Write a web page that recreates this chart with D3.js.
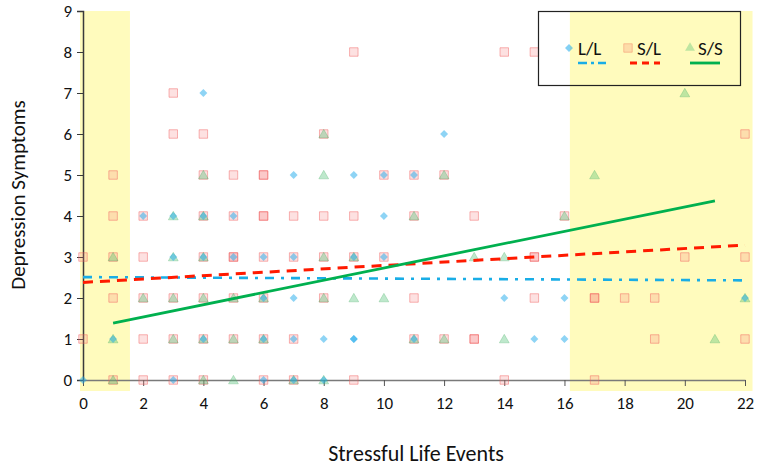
<!DOCTYPE html>
<html><head><meta charset="utf-8">
<script src="https://cdn.jsdelivr.net/npm/d3@7"></script>
<style>
html,body{margin:0;padding:0;background:#fff;}
svg{display:block;font-family:Carlito,Lato,"Open Sans",sans-serif;}
</style></head>
<body><svg id="chart" width="757" height="467"></svg>
<script>
// ---- data ----
const xTicks = [0,2,4,6,8,10,12,14,16,18,20,22];
const yTicks = [0,1,2,3,4,5,6,7,8,9];
const seriesNames = ["L/L","S/L","S/S"];
// [stressful life events, depression symptoms]
const llPoints = [
  [4,7],[12,6],
  [7,5],[9,5],[10,5],[11,5],
  [2,4],[3,4],[4,4],[5,4],[10,4],
  [3,3],[4,3],[5,3],[6,3],[7,3],[9,3],[10,3],
  [6,2],[7,2],[14,2],[16,2],[22,2],
  [1,1],[4,1],[6,1],[7,1],[8,1],[9,1],[9,1],[11,1],[15,1],[16,1],
  [0,0],[3,0],[6,0],[7,0],[8,0]
];
const slPoints = [
  [9,8],[14,8],[15,8],
  [3,7],
  [3,6],[4,6],[8,6],[22,6],
  [1,5],[4,5],[5,5],[6,5],[6,5],[10,5],[11,5],[12,5],
  [1,4],[2,4],[4,4],[5,4],[6,4],[6,4],[7,4],[8,4],[9,4],[11,4],[13,4],[16,4],
  [0,3],[1,3],[2,3],[4,3],[5,3],[5,3],[6,3],[7,3],[8,3],[9,3],[10,3],[15,3],[15,3],[20,3],[22,3],
  [1,2],[2,2],[3,2],[4,2],[5,2],[6,2],[8,2],[11,2],[15,2],[17,2],[17,2],[18,2],[19,2],
  [0,1],[2,1],[3,1],[4,1],[5,1],[6,1],[7,1],[11,1],[12,1],[13,1],[13,1],[19,1],[22,1],
  [1,0],[2,0],[3,0],[4,0],[6,0],[7,0],[9,0],[14,0],[17,0]
];
const ssPoints = [
  [20,7],[8,6],
  [4,5],[8,5],[12,5],[17,5],
  [3,4],[4,4],[11,4],[16,4],
  [1,3],[3,3],[4,3],[8,3],[9,3],[13,3],[14,3],
  [2,2],[3,2],[4,2],[5,2],[6,2],[8,2],[9,2],[10,2],[22,2],
  [1,1],[3,1],[4,1],[5,1],[6,1],[11,1],[12,1],[14,1],[21,1],
  [1,0],[4,0],[5,0],[7,0],[8,0]
];
// trend-line end points
const llTrend = [[0,2.51],[22,2.43]];
const slTrend = [[0,2.38],[22,3.29]];
const ssTrend = [[1,1.39],[21,4.37]];
// highlighted x ranges (yellow bands)
const bands = [[-0.1,1.56],[16.18,22.25]];

// ---- layout ----
const svg = d3.select("#chart");
const x = d3.scaleLinear().domain([0,22]).range([83,745]);
const y = d3.scaleLinear().domain([0,9]).range([380,11]);

// bands
svg.append("g").selectAll("rect").data(bands).join("rect")
  .attr("x", d=>x(d[0])).attr("width", d=>x(d[1])-x(d[0]))
  .attr("y", y(9)).attr("height", 391-y(9))
  .attr("fill", "#fffbbd");

// axes
const yAxis = svg.append("g").attr("transform", `translate(${x(0)},0)`)
  .call(d3.axisLeft(y).tickValues(yTicks).tickSize(6).tickPadding(5));
yAxis.select(".domain").attr("stroke","#3a3a3a").attr("stroke-width",1.5);
yAxis.selectAll(".tick line").attr("stroke","#3a3a3a");
yAxis.selectAll("text").attr("font-size",17).attr("fill","#111").style("font-family","Carlito,Lato,sans-serif");

const xAxis = svg.append("g").attr("transform", `translate(0,${y(0)})`)
  .call(d3.axisBottom(x).tickValues(xTicks).tickSize(6).tickPadding(11).tickSizeOuter(0));
xAxis.select(".domain").attr("stroke","#7a7a7a").attr("stroke-width",1.5);
xAxis.selectAll(".tick line").attr("stroke","#555");
xAxis.selectAll("text").attr("font-size",17).attr("fill","#111").style("font-family","Carlito,Lato,sans-serif");

// markers
const diamond = d3.symbol().type(d3.symbolDiamond2).size(40);
const square = d3.symbol().type(d3.symbolSquare).size(72);
const triangle = d3.symbol().type(d3.symbolTriangle).size(42);

svg.append("g").selectAll("path").data(slPoints).join("path")
  .attr("d", square).attr("transform", d=>`translate(${x(d[0])},${y(d[1])})`)
  .attr("fill","rgba(248,120,120,0.22)").attr("stroke","rgba(240,90,90,0.45)").attr("stroke-width",1);
svg.append("g").selectAll("path").data(ssPoints).join("path")
  .attr("d", triangle).attr("transform", d=>`translate(${x(d[0])},${y(d[1])+1})`)
  .attr("fill","rgba(70,190,110,0.35)").attr("stroke","rgba(70,170,100,0.35)").attr("stroke-width",0.8);
svg.append("g").selectAll("path").data(llPoints).join("path")
  .attr("d", diamond).attr("transform", d=>`translate(${x(d[0])},${y(d[1])})`)
  .attr("fill","rgba(30,170,235,0.5)");

// trend lines
const line = d3.line().x(d=>x(d[0])).y(d=>y(d[1]));
svg.append("path").datum(llTrend).attr("d", line).attr("fill","none")
  .attr("stroke","#19ade6").attr("stroke-width",2.6).attr("stroke-dasharray","9,7,3,7");
svg.append("path").datum(slTrend).attr("d", line).attr("fill","none")
  .attr("stroke","#ff1a00").attr("stroke-width",3).attr("stroke-dasharray","10,7");
svg.append("path").datum(ssTrend).attr("d", line).attr("fill","none")
  .attr("stroke","#00b04f").attr("stroke-width",2.8);

// legend
const lg = svg.append("g");
lg.append("rect").attr("x",538.5).attr("y",11.5).attr("width",202).attr("height",74)
  .attr("fill","none").attr("stroke","#222").attr("stroke-width",1.2);
const legItems = [
  {name:seriesNames[0], sym:diamond, sx:569, tx:578, fill:"rgba(30,170,235,0.55)", stroke:"none", lx:[578,606], color:"#19ade6", dash:"9,4,3,4", w:2.6},
  {name:seriesNames[1], sym:square, sx:628, tx:637, fill:"rgba(248,150,120,0.3)", stroke:"rgba(240,120,90,0.4)", lx:[630,660], color:"#ff1a00", dash:"7,5", w:3},
  {name:seriesNames[2], sym:triangle, sx:690, tx:698, fill:"rgba(70,190,110,0.35)", stroke:"none", lx:[690,720], color:"#00b04f", dash:null, w:2.8}
];
legItems.forEach(it=>{
  lg.append("path").attr("d", it.sym).attr("transform",`translate(${it.sx},48)`)
    .attr("fill",it.fill).attr("stroke",it.stroke);
  lg.append("text").attr("x",it.tx).attr("y",55).attr("font-size",19).attr("fill","#111").text(it.name);
  const l = lg.append("line").attr("x1",it.lx[0]).attr("x2",it.lx[1]).attr("y1",63).attr("y2",63)
    .attr("stroke",it.color).attr("stroke-width",it.w);
  if (it.dash) l.attr("stroke-dasharray", it.dash);
});

// titles
svg.append("text").attr("x",416).attr("y",461).attr("text-anchor","middle")
  .attr("font-size",22).attr("fill","#111").text("Stressful Life Events");
svg.append("text").attr("transform","translate(25,195) rotate(-90)").attr("text-anchor","middle")
  .attr("font-size",21).attr("fill","#111").text("Depression Symptoms");
</script></body></html>
